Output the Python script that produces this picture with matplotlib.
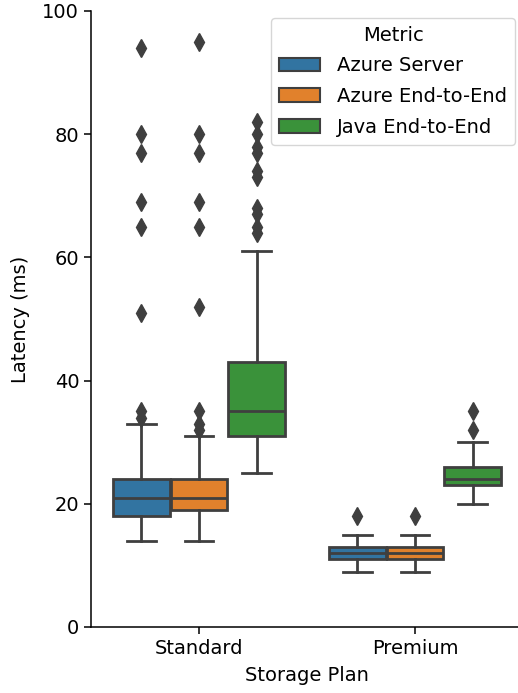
import matplotlib
matplotlib.use("Agg")
import matplotlib.pyplot as plt
from matplotlib.patches import Patch

plans = ["Standard", "Premium"]
metrics = ["Azure Server", "Azure End-to-End", "Java End-to-End"]
colors = ["#3274a1", "#e1812c", "#3a923a"]

# box stats, per plan, per metric
whislo = [[14, 14, 25], [9, 9, 20]]
q1 = [[18, 19, 31], [11, 11, 23]]
med = [[21, 21, 35], [12, 12, 24]]
q3 = [[24, 24, 43], [13, 13, 26]]
whishi = [[33, 31, 61], [15, 15, 30]]
fliers = [
    [[34, 35, 51, 65, 69, 77, 80, 94],
     [32, 33, 35, 52, 65, 69, 77, 80, 95],
     [64, 65, 67, 68, 73, 74, 77, 78, 80, 82]],
    [[18], [18], [32, 35]],
]

line_col = "#3f3f3f"
plt.rcParams["font.size"] = 14

fig = plt.figure(figsize=(5.18, 6.93), dpi=100)
ax = fig.add_axes([91 / 518, 66 / 693, 432 / 518, 616 / 693])

width = 0.8 / len(metrics)
for i, plan in enumerate(plans):
    for j in range(len(metrics)):
        pos = i - 0.4 + width * (j + 0.5)
        st = dict(med=med[i][j], q1=q1[i][j], q3=q3[i][j],
                  whislo=whislo[i][j], whishi=whishi[i][j],
                  fliers=fliers[i][j])
        ax.bxp([st], positions=[pos], widths=width * 0.98, patch_artist=True,
               boxprops=dict(facecolor=colors[j], edgecolor=line_col, linewidth=2.0),
               medianprops=dict(color=line_col, linewidth=2.0),
               whiskerprops=dict(color=line_col, linewidth=2.0),
               capprops=dict(color=line_col, linewidth=2.0),
               flierprops=dict(marker="d", markersize=9, markerfacecolor=line_col,
                               markeredgecolor=line_col, linestyle="none"),
               capwidths=width * 0.5, manage_ticks=False)

ax.set_xlim(-0.5, 1.5)
ax.set_ylim(0, 100)
ax.set_xticks(range(len(plans)))
ax.set_xticklabels(plans)
ax.set_yticks([0, 20, 40, 60, 80, 100])
ax.set_xlabel("Storage Plan", labelpad=6)
ax.set_ylabel("Latency (ms)", labelpad=9)
ax.spines["top"].set_visible(False)
ax.spines["right"].set_visible(False)
ax.tick_params(length=5, width=1.1)
for s in ax.spines.values():
    s.set_linewidth(1.1)

handles = [Patch(facecolor=c, edgecolor=line_col, linewidth=1.5) for c in colors]
ax.legend(handles, metrics, title="Metric", loc="upper right",
          bbox_to_anchor=(515 / 518, 1 - 18 / 693), bbox_transform=fig.transFigure,
          borderaxespad=0, fontsize=14, title_fontsize=14,
          handlelength=2.1, handletextpad=0.9, labelspacing=0.6)

fig.savefig("out.png", dpi=100)
